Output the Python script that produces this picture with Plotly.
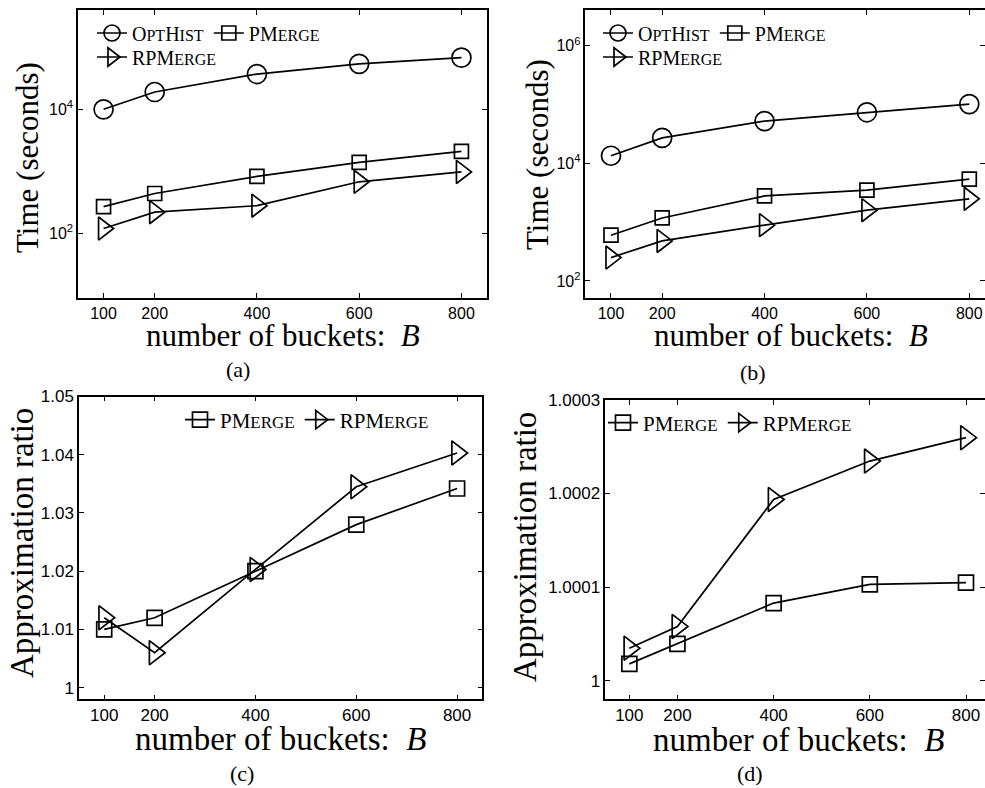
import plotly.graph_objects as go

W, H = 985, 788

# ---- data -------------------------------------------------------------
buckets = [100, 200, 400, 600, 800]

# (a) running time, dataset 1 (seconds)
a_opthist = [10000, 19000, 37000, 54000, 68000]
a_pmerge = [270, 440, 830, 1400, 2100]
a_rpmerge = [120, 220, 280, 680, 980]

# (b) running time, dataset 2 (seconds)
b_opthist = [13500, 27200, 52500, 74100, 102000]
b_pmerge = [600, 1180, 2800, 3500, 5400]
b_rpmerge = [250, 480, 890, 1600, 2500]

# (c) approximation ratio, dataset 1
c_pmerge = [1.010, 1.012, 1.020, 1.028, 1.0342]
c_rpmerge = [1.012, 1.006, 1.0203, 1.0345, 1.0403]

# (d) approximation ratio, dataset 2
d_pmerge = [1.0000179, 1.0000393, 1.0000829, 1.0001029, 1.0001047]
d_rpmerge = [1.0000346, 1.0000579, 1.0001936, 1.0002347, 1.0002597]

x_ticks = [100, 200, 400, 600, 800]
log_ticks_a = [1e2, 1e4]
log_text_a = ["10<sup>2</sup>", "10<sup>4</sup>"]
log_ticks_b = [1e2, 1e4, 1e6]
log_text_b = ["10<sup>2</sup>", "10<sup>4</sup>", "10<sup>6</sup>"]
ratio_ticks_c = [1.0, 1.01, 1.02, 1.03, 1.04, 1.05]
ratio_text_c = ["1", "1.01", "1.02", "1.03", "1.04", "1.05"]
ratio_ticks_d = [1.0, 1.0001, 1.0002, 1.0003]
ratio_text_d = ["1", "1.0001", "1.0002", "1.0003"]

SERIF = "Liberation Serif"
SANS = "Liberation Sans"


def sc(big, small, size):
    """Small-caps style label: full caps followed by reduced caps."""
    return f"{big}<span style='font-size:{size}px'>{small}</span>"


def names(small):
    return (sc("O", "PT", small) + sc("H", "IST", small),
            sc("PM", "ERGE", small),
            sc("RPM", "ERGE", small))


OPT_AB, PM_AB, RPM_AB = names(16)
_, PM_CD, RPM_CD = names(17)

STYLE = {
    "opt": dict(symbol="circle-open", size=19),
    "pm": dict(symbol="square-open", size=14),
    "rpm": dict(symbol="triangle-right-open", size=20),
}
LW = 1.7


def px(xp):
    return xp / W


def py(yp):
    return 1 - yp / H


fig = go.Figure()


def add(xa, ya, ys, kind, name, legend, msize=None):
    st = dict(STYLE[kind])
    if msize:
        st["size"] = msize
    fig.add_trace(go.Scatter(
        x=buckets, y=ys, name=name, mode="lines+markers",
        xaxis=xa, yaxis=ya, legend=legend,
        line=dict(color="black", width=LW),
        marker=dict(color="black", line=dict(width=LW, color="black"), **st),
        showlegend=True,
    ))


# (a)
add("x", "y", a_opthist, "opt", OPT_AB, "legend")
add("x", "y", a_pmerge, "pm", PM_AB, "legend")
add("x", "y", a_rpmerge, "rpm", RPM_AB, "legend2")
# (b)
add("x2", "y2", b_opthist, "opt", OPT_AB, "legend3")
add("x2", "y2", b_pmerge, "pm", PM_AB, "legend3")
add("x2", "y2", b_rpmerge, "rpm", RPM_AB, "legend4")
# (c)
add("x3", "y3", c_pmerge, "pm", PM_CD, "legend5", 15)
add("x3", "y3", c_rpmerge, "rpm", RPM_CD, "legend5", 21)
# (d)
add("x4", "y4", d_pmerge, "pm", PM_CD, "legend6", 15)
add("x4", "y4", d_rpmerge, "rpm", RPM_CD, "legend6", 21)


def xaxis(dom, rng, anchor, fs):
    return dict(domain=dom, range=rng, anchor=anchor, tickvals=x_ticks,
                ticktext=[str(v) for v in x_ticks],
                showline=True, linecolor="black", linewidth=1.5, mirror="ticks",
                ticks="inside", ticklen=5, tickwidth=1, tickcolor="black",
                showgrid=False, zeroline=False,
                tickfont=dict(family=SANS, size=fs, color="black"))


def yaxis(dom, rng, anchor, vals, text, fs, log=False):
    d = dict(domain=dom, range=rng, anchor=anchor, tickvals=vals, ticktext=text,
             showline=True, linecolor="black", linewidth=1.5, mirror="ticks",
             ticks="inside", ticklen=5, tickwidth=1, tickcolor="black",
             showgrid=False, zeroline=False,
             tickfont=dict(family=SANS, size=fs, color="black"))
    if log:
        d["type"] = "log"
    return d


def legend(xp, yp, fs):
    return dict(x=px(xp), y=py(yp), xanchor="left", yanchor="middle",
                orientation="h", bgcolor="rgba(0,0,0,0)", borderwidth=0,
                itemwidth=30, traceorder="normal",
                font=dict(family=SERIF, size=fs, color="black"))


fig.update_layout(
    width=W, height=H, margin=dict(l=0, r=0, t=0, b=0, autoexpand=False),
    paper_bgcolor="white", plot_bgcolor="white",
    xaxis=xaxis([px(78), px(487)], [50, 850], "y", 16),
    yaxis=yaxis([py(298), py(10)], [0.96, 5.6], "x", log_ticks_a, log_text_a, 16, True),
    xaxis2=xaxis([px(585.4), 1.0], [50, 830.7], "y2", 16),
    yaxis2=yaxis([py(298), py(10)], [1.71, 6.61], "x2", log_ticks_b, log_text_b, 16, True),
    xaxis3=xaxis([px(79), px(482.3)], [50, 850], "y3", 17),
    yaxis3=yaxis([py(699.3), py(396.5)], [0.998, 1.05], "x3", ratio_ticks_c, ratio_text_c, 17),
    xaxis4=xaxis([px(605.3), 1.0], [50, 839.5], "y4", 17),
    yaxis4=yaxis([py(699.3), py(400)], [0.99998, 1.0003], "x4", ratio_ticks_d, ratio_text_d, 17),
    legend=legend(92, 33, 20),
    legend2=legend(92, 57, 20),
    legend3=legend(598, 33, 20),
    legend4=legend(598, 57, 20),
    legend5=legend(180, 420, 21),
    legend6=legend(603, 423, 21),
)


def note(text, xp, yp, size, angle=0):
    fig.add_annotation(text=text, x=px(xp), y=py(yp), xref="paper", yref="paper",
                       xanchor="center", yanchor="middle", showarrow=False,
                       textangle=angle, font=dict(family=SERIF, size=size, color="black"))


XT = "number of buckets:  <i>B</i>"
note(XT, 282.5, 335, 31)
note(XT, 791, 335, 31)
note(XT, 280, 739, 33)
note(XT, 798, 740, 33)

note("Time (seconds)", 27, 158, 31, -90)
note("Time (seconds)", 537, 155, 31, -90)
note("Approximation ratio", 22, 543, 33, -90)
note("Approximation ratio", 525, 547, 33, -90)

note("(a)", 238, 369, 22)
note("(b)", 753, 372, 22)
note("(c)", 242, 773, 22)
note("(d)", 750, 773, 22)

fig.write_html("out.html")
